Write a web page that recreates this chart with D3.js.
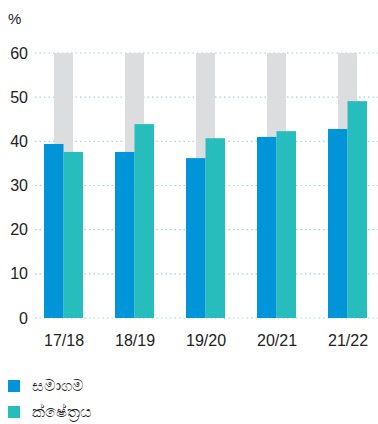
<!DOCTYPE html>
<html><head><meta charset="utf-8">
<script src="https://cdn.jsdelivr.net/npm/d3@7"></script>
<style>body{margin:0;background:#fff;}svg{display:block;font-family:"Liberation Sans",Arial,sans-serif;}</style>
</head><body><svg id="c" width="378" height="424"></svg>
<script>
const categories = ["17/18","18/19","19/20","20/21","21/22"];
const seriesNames = ["සමාගම","ක්ෂේත්‍රය"];
const samagama = [39.4, 37.6, 36.2, 41.0, 42.8];
const kshethraya = [37.6, 43.9, 40.7, 42.3, 49.1];
const background = [60, 60, 60, 60, 60];
const yTicks = [0,10,20,30,40,50,60];
const colors = ["#0095d9", "#27bdbd"];

const svg = d3.select("#c");
const x = d3.scalePoint().domain(categories).range([63.5, 347.5]);
const y = d3.scaleLinear().domain([0,60]).range([318, 53]);

// grid
svg.append("g").selectAll("line").data(yTicks).join("line")
  .attr("x1", 35).attr("x2", 378)
  .attr("y1", d => y(d)).attr("y2", d => y(d))
  .attr("stroke", "#9ed8d8").attr("stroke-width", 1.2)
  .attr("stroke-dasharray", "1.5,3");

// y axis labels
const yAxis = d3.axisLeft(y).tickValues(yTicks).tickSize(0).tickPadding(0);
const ya = svg.append("g").attr("transform", "translate(28,0)").call(yAxis);
ya.select(".domain").remove();
ya.selectAll("text").attr("font-size", 16).attr("fill", "#222").attr("font-family", "'Liberation Sans',Arial,sans-serif");

svg.append("text").attr("x", 8).attr("y", 24).text("%").attr("font-size", 15).attr("fill", "#222");

// grey background bars
const bw = 19.5;
svg.append("g").selectAll("rect").data(background).join("rect")
  .attr("x", (d,i) => x(categories[i]) - 9.5).attr("width", 19)
  .attr("y", d => y(d)).attr("height", d => y(0) - y(d))
  .attr("fill", "#dcdddf");

svg.append("g").selectAll("rect").data(samagama).join("rect")
  .attr("x", (d,i) => x(categories[i]) - bw).attr("width", bw)
  .attr("y", d => y(d)).attr("height", d => y(0) - y(d))
  .attr("fill", colors[0]);
svg.append("g").selectAll("rect").data(kshethraya).join("rect")
  .attr("x", (d,i) => x(categories[i])).attr("width", bw)
  .attr("y", d => y(d)).attr("height", d => y(0) - y(d))
  .attr("fill", colors[1]);

// x axis labels
const xAxis = d3.axisBottom(x).tickSize(0).tickPadding(0);
const xa = svg.append("g").attr("transform", "translate(0,346)").call(xAxis);
xa.select(".domain").remove();
xa.selectAll("text").attr("font-size", 16).attr("fill", "#222").attr("dy", "0").attr("font-family", "'Liberation Sans',Arial,sans-serif");

// legend
const lg = svg.append("g").selectAll("g").data(seriesNames).join("g")
  .attr("transform", (d,i) => `translate(8,${380 + i*26})`);
lg.append("rect").attr("width", 12).attr("height", 12).attr("fill", (d,i) => colors[i]);
lg.append("text").attr("x", 24).attr("y", 11).attr("font-size", 15.5).attr("fill", "#222").text(d => d);
</script></body></html>
